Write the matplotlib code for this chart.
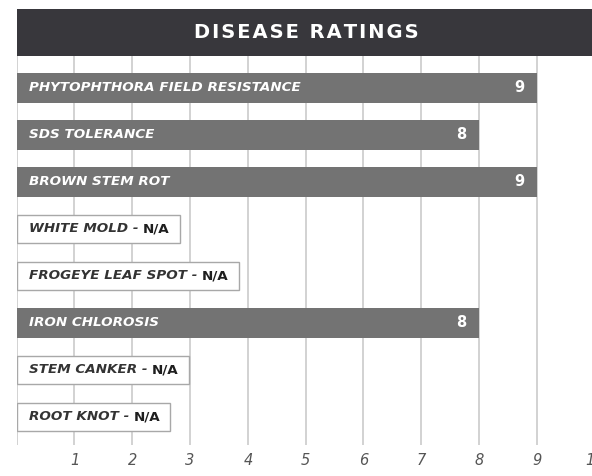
import matplotlib
matplotlib.use("Agg")
import matplotlib.pyplot as plt
from matplotlib.patches import Rectangle

# ---- data ----
categories = ["PHYTOPHTHORA FIELD RESISTANCE", "SDS TOLERANCE", "BROWN STEM ROT",
              "WHITE MOLD", "FROGEYE LEAF SPOT", "IRON CHLOROSIS",
              "STEM CANKER", "ROOT KNOT"]
ratings = [9, 8, 9, None, None, 8, None, None]
na_text = "N/A"
tick_values = [0, 1, 2, 3, 4, 5, 6, 7, 8, 9, 10]
tick_labels = ["", "1", "2", "3", "4", "5", "6", "7", "8", "9", "10"]
title = "DISEASE RATINGS"

# ---- style ----
FONT = ["DejaVu Sans"]
BAR_COLOR = "#737373"
TITLE_BG = "#38373c"
GRID_COLOR = "#c6c6c6"
BOX_EDGE = "#a8a8a8"
LABEL_DARK = "#333333"

W, H = 592, 476
fig = plt.figure(figsize=(W / 100, H / 100), dpi=100)

# axes geometry in pixels
ax_left_px, ax_right_px = 16.7, 594.6
ax_top_px, ax_bot_px = 56, 445
ax = fig.add_axes([ax_left_px / W, 1 - ax_bot_px / H,
                   (ax_right_px - ax_left_px) / W, (ax_bot_px - ax_top_px) / H])
ax.set_xlim(0, 10)
ax.set_ylim(7.6, -0.68)
for s in ax.spines.values():
    s.set_visible(False)
ax.set_axisbelow(True)
ax.set_xticks(tick_values)
ax.set_xticklabels(tick_labels, fontsize=10.5, style="italic", color="#555555",
                   family=FONT)
ax.tick_params(axis="x", length=0, pad=6)
ax.set_yticks([])
ax.grid(axis="x", color=GRID_COLOR, linewidth=1.1)

bar_h = 0.64
label_x = 0.21
label_fs = 9.7
na_items = []
for i, (cat, val) in enumerate(zip(categories, ratings)):
    if val is not None:
        ax.barh(i, val, height=bar_h, color=BAR_COLOR, zorder=2)
        ax.text(label_x, i, cat, color="white", fontsize=label_fs, style="italic",
                weight="bold", va="center", ha="left", family=FONT, zorder=3)
        ax.text(val - 0.22, i, str(val), color="white", fontsize=10.5,
                weight="bold", va="center", ha="right", family=FONT, zorder=3)
    else:
        t1 = ax.text(label_x, i, cat + " - ", color=LABEL_DARK, fontsize=label_fs,
                     style="italic", weight="bold", va="center", ha="left",
                     family=FONT, zorder=4)
        t2 = ax.annotate(na_text, xy=(1, 0), xycoords=t1, color="#1e1e1e",
                         fontsize=label_fs, weight="bold", va="bottom", ha="left",
                         family=FONT, zorder=4)
        na_items.append((i, t2))

fig.canvas.draw()
inv = ax.transData.inverted()
for i, t2 in na_items:
    bb = t2.get_window_extent()
    x_end = inv.transform((bb.x1, 0))[0] + 0.17
    ax.add_patch(Rectangle((0, i - 0.3), x_end, 0.6, facecolor="white",
                           edgecolor=BOX_EDGE, linewidth=1, zorder=3))

# title bar
tb_top, tb_bot = 9, 56
fig.add_artist(Rectangle((ax_left_px / W, 1 - tb_bot / H), 1 - ax_left_px / W,
                         (tb_bot - tb_top) / H, transform=fig.transFigure,
                         facecolor=TITLE_BG, edgecolor="none"))
spaced = "\u200a".join(title)
fig.text((ax_left_px / W + 1) / 2 + 0.003, 1 - (tb_top + tb_bot) / 2 / H, spaced,
         color="white", fontsize=14, weight="bold", ha="center", va="center",
         family=FONT)

fig.savefig("out.png", dpi=100)
